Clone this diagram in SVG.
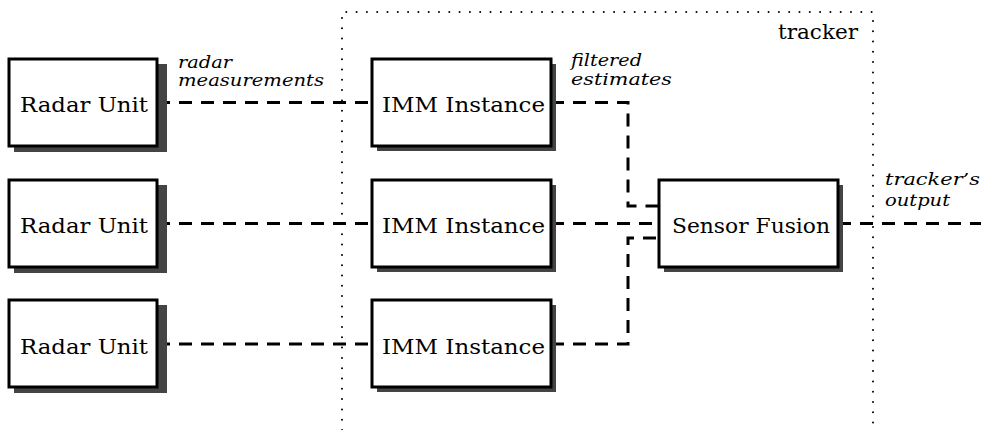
<svg xmlns="http://www.w3.org/2000/svg" width="981" height="430" viewBox="0 0 981 430">
<style>
.shadow{fill:#444;stroke:none}
.box{fill:#fff;stroke:#000;stroke-width:3}
.lbl{font-family:"DejaVu Serif","Liberation Serif",serif;font-size:21px;fill:#000}
.it{font-family:"DejaVu Serif","Liberation Serif",serif;font-size:16px;font-style:italic;fill:#000}
.dash{fill:none;stroke:#000;stroke-width:3;stroke-dasharray:13 9}
.dot{fill:none;stroke:#000;stroke-width:2;stroke-linecap:round;stroke-dasharray:0 10.3}
</style>
<rect width="981" height="430" fill="#fff"/>
<g id="tracker">
<path class="dot" d="M342,430 V12 H873 V430"/>
<text class="lbl" x="778" y="39" textLength="80" lengthAdjust="spacingAndGlyphs">tracker</text>
</g>
<g id="connectors">
<path class="dash" d="M157,102.5 H372"/>
<path class="dash" d="M157,223.5 H372"/>
<path class="dash" d="M157,344 H372"/>
<path class="dash" d="M551,102.5 H628 V206 H659"/>
<path class="dash" d="M551,223.5 H659"/>
<path class="dash" d="M551,344 H628 V238 H659"/>
<path class="dash" d="M838,223.5 H981"/>
<text class="it" x="178" y="68" textLength="54" lengthAdjust="spacingAndGlyphs">radar</text>
<text class="it" x="178" y="86" textLength="146" lengthAdjust="spacingAndGlyphs">measurements</text>
<text class="it" x="571" y="66" textLength="71" lengthAdjust="spacingAndGlyphs">filtered</text>
<text class="it" x="571" y="85" textLength="101" lengthAdjust="spacingAndGlyphs">estimates</text>
<text class="it" x="885" y="185" textLength="95" lengthAdjust="spacingAndGlyphs">tracker’s</text>
<text class="it" x="885" y="206" textLength="65" lengthAdjust="spacingAndGlyphs">output</text>
</g>
<g id="radar1"><rect class="shadow" x="14" y="64" width="153" height="88"/><rect class="box" x="9" y="59" width="148" height="87"/><text class="lbl" x="20" y="112" textLength="128" lengthAdjust="spacingAndGlyphs">Radar Unit</text></g>
<g id="radar2"><rect class="shadow" x="14" y="185" width="153" height="88"/><rect class="box" x="9" y="180" width="148" height="87"/><text class="lbl" x="20" y="233" textLength="128" lengthAdjust="spacingAndGlyphs">Radar Unit</text></g>
<g id="radar3"><rect class="shadow" x="14" y="305" width="153" height="88"/><rect class="box" x="9" y="300" width="148" height="87"/><text class="lbl" x="20" y="354" textLength="128" lengthAdjust="spacingAndGlyphs">Radar Unit</text></g>
<g id="imm1"><rect class="shadow" x="377" y="64" width="179" height="87"/><rect class="box" x="372" y="59" width="179" height="87"/><text class="lbl" x="382" y="112" textLength="163" lengthAdjust="spacingAndGlyphs">IMM Instance</text></g>
<g id="imm2"><rect class="shadow" x="377" y="185" width="179" height="87"/><rect class="box" x="372" y="180" width="179" height="87"/><text class="lbl" x="382" y="233" textLength="163" lengthAdjust="spacingAndGlyphs">IMM Instance</text></g>
<g id="imm3"><rect class="shadow" x="377" y="305" width="179" height="87"/><rect class="box" x="372" y="300" width="179" height="87"/><text class="lbl" x="382" y="354" textLength="163" lengthAdjust="spacingAndGlyphs">IMM Instance</text></g>
<g id="fusion"><rect class="shadow" x="664" y="185" width="179" height="87"/><rect class="box" x="659" y="180" width="179" height="87"/><text class="lbl" x="672" y="233" textLength="158" lengthAdjust="spacingAndGlyphs">Sensor Fusion</text></g>
</svg>
